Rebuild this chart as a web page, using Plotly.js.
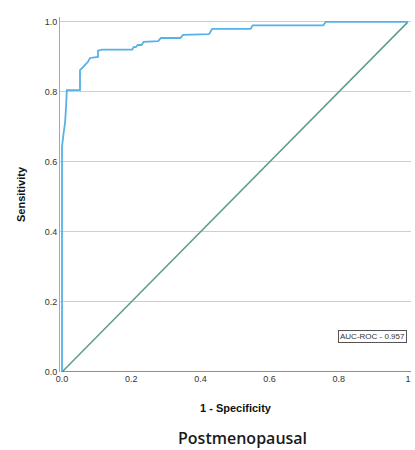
<!DOCTYPE html>
<html>
<head>
<meta charset="utf-8">
<script src="https://cdn.plot.ly/plotly-3.0.1.min.js"></script>
<style>
  html, body { margin: 0; padding: 0; background: #ffffff; }
  #chart { width: 415px; height: 450px; }
</style>
</head>
<body>
<div id="chart"></div>
<script>
// ROC curve, postmenopausal group: false positive rate vs. true positive rate
const falsePositiveRate = [0, 0, 0.004, 0.009, 0.012, 0.014, 0.052, 0.052, 0.060, 0.066, 0.075, 0.081,
  0.104, 0.104, 0.116, 0.203, 0.207, 0.213, 0.219, 0.230, 0.236, 0.278, 0.286, 0.342, 0.350, 0.425,
  0.434, 0.545, 0.551, 0.755, 0.762, 1.0];
const truePositiveRate = [0, 0.643, 0.677, 0.714, 0.763, 0.805, 0.805, 0.862, 0.870, 0.877, 0.886, 0.897,
  0.900, 0.918, 0.921, 0.921, 0.928, 0.928, 0.934, 0.934, 0.943, 0.945, 0.954, 0.954, 0.963, 0.965,
  0.980, 0.980, 0.990, 0.990, 1.0, 1.0];

// chance (reference) line
const refX = [0, 1];
const refY = [0, 1];

const tickVals = [0, 0.2, 0.4, 0.6, 0.8, 1.0];
const yTickText = ['0.0', '0.2', '0.4', '0.6', '0.8', '1.0'];
const xTickText = ['0.0', '0.2', '0.4', '0.6', '0.8', '1'];

const aucValue = 0.957;

const traces = [
  {
    x: refX, y: refY, type: 'scatter', mode: 'lines',
    line: { color: '#5f9e86', width: 1.5 },
    hoverinfo: 'skip', showlegend: false
  },
  {
    x: falsePositiveRate, y: truePositiveRate, type: 'scatter', mode: 'lines',
    line: { color: '#55b2e8', width: 1.8 },
    showlegend: false
  }
];

const layout = {
  width: 415, height: 450,
  margin: { l: 60, r: 4, t: 17, b: 78 },
  paper_bgcolor: '#ffffff',
  plot_bgcolor: '#ffffff',
  font: { family: 'Liberation Sans, Arial, sans-serif', color: '#222' },
  xaxis: {
    range: [-0.0058, 1.0087],
    tickvals: tickVals, ticktext: xTickText,
    tickfont: { size: 9, color: '#333' },
    showgrid: false, zeroline: false,
    showline: false,
    ticks: '', ticklen: 0,
    title: { text: '<b>1 - Specificity</b>', font: { size: 11, color: '#111' }, standoff: 21 }
  },
  yaxis: {
    range: [0, 1.014],
    tickvals: tickVals, ticktext: yTickText,
    tickfont: { size: 9, color: '#333' },
    showgrid: true, gridcolor: '#cfcfcf', gridwidth: 1,
    zeroline: false,
    showline: true, linecolor: '#a8a8a8', linewidth: 1,
    ticks: '', ticklen: 0,
    title: { text: '<b>Sensitivity</b>', font: { size: 11, color: '#111' }, standoff: 16 }
  },
  shapes: [
    // horizontal axis baseline
    { type: 'line', xref: 'paper', yref: 'y', x0: 0.005, x1: 1, y0: 0, y1: 0,
      line: { color: '#6a6a6a', width: 1.5 } }
  ],
  annotations: [
    {
      x: 0.896, y: 0.1, xref: 'x', yref: 'y',
      text: 'AUC-ROC - ' + aucValue.toFixed(3),
      showarrow: false,
      font: { size: 8, color: '#333' },
      bordercolor: '#555', borderwidth: 1, borderpad: 1,
      bgcolor: '#ffffff'
    },
    {
      x: 0.52, y: -0.186, xref: 'paper', yref: 'paper',
      xanchor: 'center', yanchor: 'middle',
      text: 'Postmenopausal',
      showarrow: false,
      font: { family: 'Open Sans, Noto Sans, sans-serif', size: 16, weight: 600, color: '#1a1a1a' }
    }
  ]
};

Plotly.newPlot('chart', traces, layout, { displayModeBar: false, staticPlot: true });
</script>
</body>
</html>
